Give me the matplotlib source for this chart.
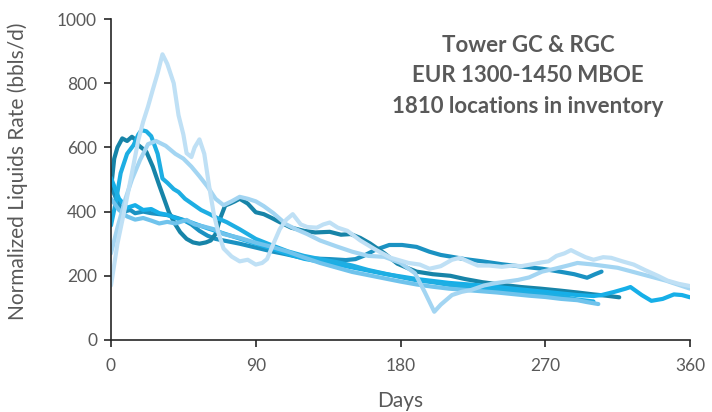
import matplotlib
matplotlib.use("Agg")
import matplotlib.pyplot as plt

# ---- data ----
d1 = [0, 4, 9, 13, 17, 20, 23, 26, 29, 32, 35, 39, 42, 45, 47, 50, 52, 55, 58, 61, 64, 67, 70, 75, 80, 85, 90, 94, 97, 101, 105, 109, 113, 118, 122, 128, 132, 136, 141, 147, 155, 165, 174, 185, 192, 198, 205, 212, 217, 222, 228, 235, 243, 250, 255, 262, 268, 272, 277, 282, 286, 290, 295, 300, 306, 311, 318, 325, 332, 340, 346, 353, 360]
v1 = [170, 300, 420, 520, 623, 680, 727, 780, 831, 890, 860, 800, 700, 640, 582, 570, 600, 625, 580, 480, 390, 330, 285, 260, 245, 250, 235, 240, 252, 300, 346, 375, 392, 360, 352, 350, 360, 366, 350, 340, 310, 280, 256, 240, 235, 222, 230, 250, 256, 245, 232, 232, 228, 232, 230, 236, 242, 245, 262, 270, 280, 270, 258, 250, 258, 256, 245, 235, 218, 200, 185, 175, 168]

d2 = [0, 4, 9, 13, 18, 23, 28, 34, 40, 45, 50, 55, 60, 65, 70, 75, 80, 85, 90, 95, 101, 109, 115, 122, 130, 140, 150, 160, 170, 180, 189, 195, 201, 205, 212, 218, 224, 232, 239, 246, 253, 260, 268, 276, 284, 290, 300, 315, 330, 345, 360]
v2 = [270, 350, 440, 500, 560, 610, 620, 605, 580, 565, 540, 510, 478, 440, 420, 432, 446, 440, 432, 417, 395, 360, 345, 330, 310, 292, 275, 262, 259, 240, 208, 150, 88, 110, 140, 150, 156, 170, 177, 182, 187, 195, 213, 222, 232, 240, 235, 225, 205, 185, 160]

d3 = [0, 3, 6, 10, 14, 17, 19, 22, 25, 29, 32, 35, 39, 42, 46, 52, 56, 61, 66, 72, 80, 90, 100, 110, 120, 130, 140, 150, 160, 170, 180, 190, 200, 210, 220, 230, 240, 250, 260, 270, 280, 290, 300]
v3 = [357, 430, 520, 580, 607, 640, 654, 650, 635, 580, 503, 490, 470, 461, 440, 419, 405, 393, 380, 367, 345, 315, 295, 276, 262, 252, 243, 232, 218, 207, 196, 186, 180, 172, 166, 160, 155, 150, 146, 141, 135, 126, 120]

d4 = [0, 2, 4, 7, 10, 13, 15, 17, 20, 22, 26, 30, 33, 36, 40, 43, 47, 51, 55, 59, 62, 65, 68, 71, 74, 77, 80, 85, 90, 95, 100, 105, 112, 120, 127, 136, 143, 149, 155, 161, 170, 178, 184, 190, 200, 211, 220, 231, 243, 255, 267, 279, 290, 300, 308, 316]
v4 = [471, 565, 600, 628, 620, 633, 625, 607, 595, 586, 540, 482, 440, 398, 360, 336, 315, 304, 300, 304, 310, 330, 380, 419, 425, 432, 440, 425, 398, 392, 380, 367, 350, 340, 335, 337, 328, 330, 318, 301, 270, 238, 225, 213, 205, 200, 190, 180, 172, 165, 160, 154, 148, 142, 138, 133]

d5 = [0, 4, 8, 12, 15, 20, 25, 30, 35, 40, 45, 50, 55, 60, 65, 70, 80, 90, 100, 108, 117, 125, 136, 146, 152, 157, 164, 173, 181, 190, 198, 205, 211, 220, 231, 243, 255, 268, 279, 288, 296, 301, 305]
v5 = [480, 430, 400, 405, 395, 400, 395, 392, 389, 382, 374, 360, 340, 325, 315, 310, 300, 288, 276, 268, 258, 254, 252, 249, 252, 262, 280, 296, 296, 290, 275, 265, 260, 252, 245, 236, 229, 222, 213, 205, 194, 205, 213]

d6 = [0, 5, 10, 15, 20, 25, 30, 35, 40, 47, 52, 58, 64, 70, 80, 90, 100, 110, 120, 130, 140, 150, 160, 170, 180, 190, 200, 210, 220, 230, 240, 250, 260, 270, 280, 290, 296, 303]
v6 = [440, 405, 385, 375, 380, 372, 363, 368, 363, 374, 360, 353, 345, 330, 318, 303, 290, 275, 257, 240, 226, 212, 202, 192, 182, 173, 166, 160, 156, 152, 148, 143, 138, 134, 128, 124, 118, 112]

d7 = [0, 5, 10, 15, 20, 25, 30, 35, 40, 50, 60, 70, 80, 90, 100, 110, 120, 130, 140, 150, 160, 170, 180, 190, 200, 210, 220, 230, 240, 250, 260, 270, 280, 290, 300, 305, 313, 320, 323, 330, 336, 343, 350, 355, 360]
v7 = [505, 440, 412, 420, 405, 408, 395, 390, 380, 366, 348, 332, 316, 300, 285, 268, 253, 244, 236, 226, 216, 206, 198, 190, 184, 178, 174, 170, 165, 160, 155, 150, 145, 140, 137, 140, 150, 160, 165, 140, 122, 128, 142, 140, 133]

series = [(d5, v5), (d4, v4), (d7, v7), (d3, v3), (d6, v6), (d2, v2), (d1, v1)]
colors = ["#1b92c2", "#1784a8", "#16afe8", "#1eaee3", "#70c3ec", "#a3d5f2", "#bfe0f5"]

xticks = [0, 90, 180, 270, 360]
yticks = [0, 200, 400, 600, 800, 1000]
title_lines = "Tower GC & RGC\nEUR 1300-1450 MBOE\n1810 locations in inventory"

plt.rcParams['font.family'] = ['Lato', 'DejaVu Sans']
fig = plt.figure(figsize=(7.12, 4.12), dpi=100)
ax = fig.add_axes([111/712, 72/412, 579/712, 321/412])

for (d, v), c in zip(series, colors):
    ax.plot(d, v, color=c, lw=3.0, solid_joinstyle='round', solid_capstyle='round')

ax.set_xlim(0, 360)
ax.set_ylim(0, 1000)
ax.set_xticks(xticks)
ax.set_yticks(yticks)
grey = "#595959"
ax.tick_params(axis='both', colors='#262626', labelcolor=grey, labelsize=12.5,
               length=5, width=1.2, direction='out')
ax.tick_params(axis='x', pad=8)
ax.tick_params(axis='y', pad=5)
for s in ['top', 'right']:
    ax.spines[s].set_visible(False)
for s in ['left', 'bottom']:
    ax.spines[s].set_color('#262626')
    ax.spines[s].set_linewidth(1.2)
ax.set_xlabel("Days", fontsize=15, color=grey, labelpad=12)
ax.set_ylabel("Normalized Liquids Rate (bbls/d)", fontsize=15, color=grey)
ax.yaxis.set_label_coords(-0.143, 0.525)

fig.text(528/712, 1 - 76/412, title_lines, ha='center', va='center',
         fontsize=16, fontweight='bold', color=grey, linespacing=1.55)

fig.savefig("out.png", dpi=100)
